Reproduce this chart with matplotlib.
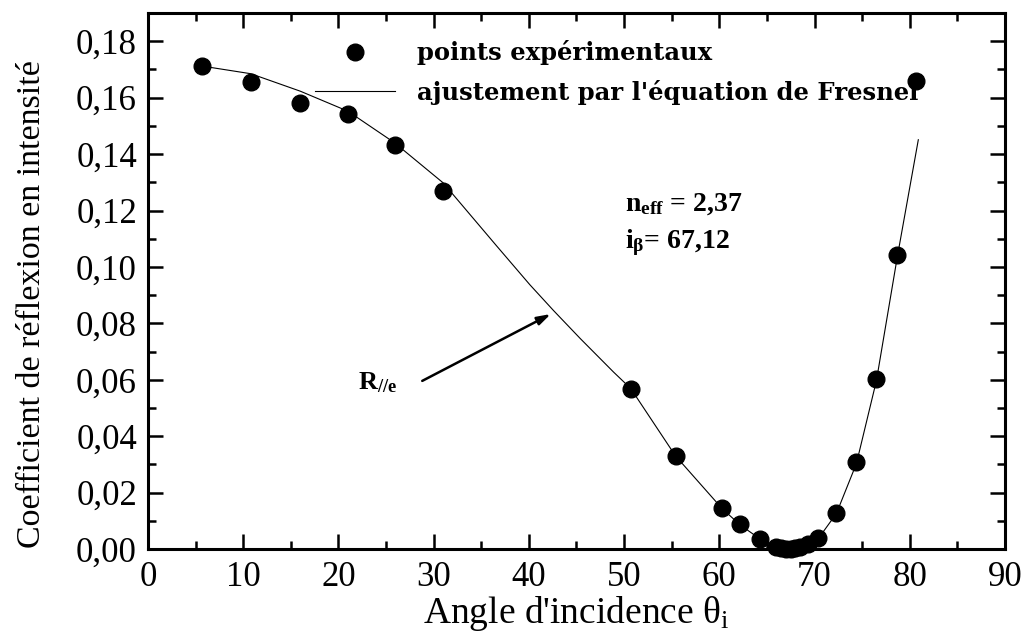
#!/usr/bin/env python3

"""Reflexion coefficient vs incidence angle (Fresnel fit)."""

import matplotlib
matplotlib.use("Agg")
import matplotlib.pyplot as plt
from matplotlib.lines import Line2D
from matplotlib.ticker import MultipleLocator, FuncFormatter

# experimental points
exp_angle = [5.7, 10.8, 16.0, 21.0, 25.9, 31.0, 50.7, 55.4, 60.3, 62.2,
             64.3, 66.0, 66.5, 67.0, 67.5, 68.0, 68.5, 69.3, 70.4, 72.3,
             74.4, 76.5, 78.7, 80.7]
exp_refl = [0.1712, 0.1655, 0.1580, 0.1543, 0.1431, 0.1268, 0.0569, 0.0330,
            0.0146, 0.0088, 0.0037, 0.0006, 0.0002, 0.0000, 0.0000, 0.0002,
            0.0006, 0.0018, 0.0038, 0.0129, 0.0308, 0.0602, 0.1043, 0.1658]

# fitted curve
fit_angle = [5.7, 10.8, 16.0, 21.0, 25.9, 31.0, 36.6, 40.1, 42.6, 45.4,
             48.9, 50.7, 55.4, 60.3, 62.2, 64.3, 65.5, 66.5, 67.1, 68.0,
             69.0, 70.4, 72.3, 74.4, 76.5, 78.7, 80.9]
fit_refl = [0.1712, 0.1685, 0.1623, 0.1552, 0.1440, 0.1298, 0.1075, 0.0937,
            0.0845, 0.0746, 0.0627, 0.0569, 0.0330, 0.0143, 0.0085, 0.0035,
            0.0015, 0.0003, 0.0000, 0.0003, 0.0012, 0.0037, 0.0126, 0.0303,
            0.0597, 0.1037, 0.1451]

plt.rcParams["font.family"] = "Liberation Serif"
plt.rcParams["mathtext.fontset"] = "custom"
plt.rcParams["mathtext.rm"] = "Liberation Serif"
plt.rcParams["mathtext.it"] = "Liberation Serif:italic"
plt.rcParams["mathtext.bf"] = "Liberation Serif:bold"

fig = plt.figure(figsize=(10.30, 6.38), dpi=100)
ax = fig.add_axes([0.1437, 0.1395, 0.832, 0.840])

ax.plot(fit_angle, fit_refl, color="black", lw=0.8, zorder=3)
ax.plot(exp_angle, exp_refl, "o", color="black", ms=12, zorder=7,
        clip_on=False)

ax.set_xlim(0, 90)
ax.set_ylim(0, 0.19)
ax.xaxis.set_major_locator(MultipleLocator(10))
ax.xaxis.set_minor_locator(MultipleLocator(5))
ax.yaxis.set_major_locator(MultipleLocator(0.02))
ax.yaxis.set_minor_locator(MultipleLocator(0.01))
ax.yaxis.set_major_formatter(FuncFormatter(lambda v, p: f"{v:.2f}".replace(".", ",")))

ax.tick_params(which="both", direction="in", top=True, right=True,
               width=1.8, labelsize=25)
ax.tick_params(which="major", length=11, pad=8)
ax.tick_params(axis="x", which="major", pad=9)
ax.tick_params(which="minor", length=6)
for s in ax.spines.values():
    s.set_linewidth(2.2)

ax.set_xlabel("Angle d'incidence θ$_\\mathrm{i}$", fontsize=27, labelpad=0)
ax.set_ylabel("Coefficient de réflexion en intensité", fontsize=24.5)
ax.yaxis.set_label_coords(-0.118, 0.457)

handles = [
    Line2D([], [], ls="none", marker="o", color="black", ms=12),
    Line2D([], [], color="black", lw=0.8),
]
labels = ["points expérimentaux", "ajustement par l'équation de Fresnel"]
ax.legend(handles, labels, loc="upper left", bbox_to_anchor=(0.195, 0.949),
          frameon=False, borderpad=0, borderaxespad=0, handlelength=3.3,
          handletextpad=0.9, labelspacing=0.58,
          prop={"family": "DejaVu Serif", "weight": "bold", "size": 17.5})

ax.text(50.1, 0.1222, "n$_\\mathbf{eff}$ = 2,37", fontsize=20,
        fontweight="bold", va="center")
ax.text(50.1, 0.1085, "i$_\\mathbf{\\beta}$= 67,12", fontsize=20,
        fontweight="bold", va="center")
ax.text(22.1, 0.0590, "R$_\\mathbf{//e}$", fontsize=19,
        fontweight="bold", va="center")
ax.annotate("", xy=(42.3, 0.0833), xytext=(28.8, 0.0596),
            arrowprops=dict(arrowstyle="-|>,head_length=0.8,head_width=0.25",
                            lw=1.8, color="black", shrinkA=0, shrinkB=0))

fig.savefig("out.png", dpi=100)
